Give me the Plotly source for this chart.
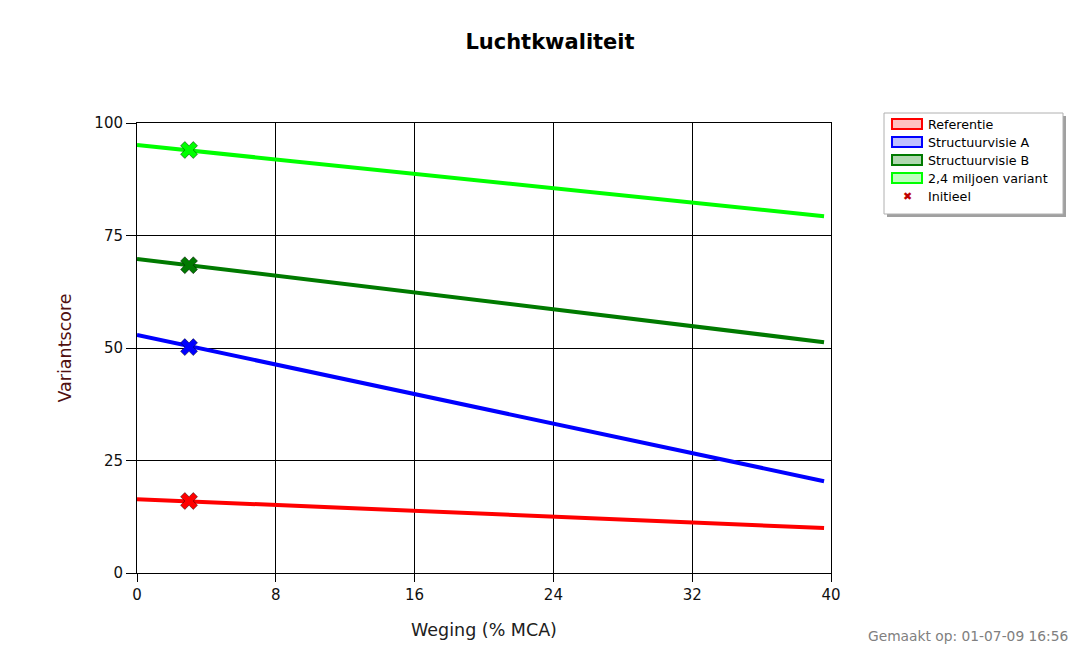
import plotly.graph_objects as go

# ── Data ───────────────────────────────────────────────────────
series_names = ["Referentie", "Structuurvisie A", "Structuurvisie B", "2,4 miljoen variant"]
line_colors = ["#ff0000", "#0000ff", "#007a00", "#00ff00"]
fill_colors = ["#ffc0c0", "#c0c0ff", "#b0d8b0", "#c0ffc0"]
weging = [0, 39.6]
scores = [
    [16.4, 10.0],
    [52.9, 20.4],
    [69.8, 51.3],
    [95.1, 79.3],
]
initieel_x = 3
initieel_y = [16.0, 50.2, 68.4, 94.0]
x_ticks = [0, 8, 16, 24, 32, 40]
y_ticks = [0, 25, 50, 75, 100]

# page body has an 8px margin, so work in screen pixels and shift
OFF = 8
W, H = 1080 - 2 * OFF, 653 - 2 * OFF
L, R, T, B = 137 - OFF, 831 - OFF, 123 - OFF, 573 - OFF
FONT = "DejaVu Sans"


def px(x):
    return (x - OFF - L) / (R - L)


def py(y):
    return (B - (y - OFF)) / (B - T)


fig = go.Figure()

for name, col, ys, yi in zip(series_names, line_colors, scores, initieel_y):
    fig.add_trace(
        go.Scatter(
            x=weging, y=ys, mode="lines", name=name,
            line=dict(color=col, width=4), showlegend=False,
        )
    )
    fig.add_trace(
        go.Scatter(
            x=[initieel_x], y=[yi], mode="markers", showlegend=False,
            marker=dict(symbol="x", size=15, color=col,
                        line=dict(width=1, color="rgba(0,0,0,0.45)")),
        )
    )

# ── Manual legend ──────────────────────────────────────────────
shapes = [
    # shadow
    dict(type="rect", xref="paper", yref="paper", x0=px(887), x1=px(1066),
         y0=py(116), y1=py(217), fillcolor="#a0a0a0", line=dict(width=0), layer="below"),
    dict(type="rect", xref="paper", yref="paper", x0=px(884), x1=px(1063),
         y0=py(113), y1=py(214), fillcolor="white", line=dict(color="#b0b0b0", width=1)),
]
annotations = []
row_y = [124, 142, 160, 178]
for name, col, fc, ry in zip(series_names, line_colors, fill_colors, row_y):
    shapes.append(
        dict(type="rect", xref="paper", yref="paper", x0=px(892), x1=px(922),
             y0=py(ry - 5), y1=py(ry + 5), fillcolor=fc, line=dict(color=col, width=2))
    )
    annotations.append(
        dict(xref="paper", yref="paper", x=px(926), y=py(ry), text=name, showarrow=False,
             xanchor="left", yanchor="middle", font=dict(family=FONT, size=12.7, color="#000"))
    )
annotations.append(
    dict(xref="paper", yref="paper", x=px(907), y=py(196), text="✖", showarrow=False,
         xanchor="center", yanchor="middle", font=dict(family=FONT, size=11, color="#c00000"))
)
annotations.append(
    dict(xref="paper", yref="paper", x=px(926), y=py(196), text="Initieel", showarrow=False,
         xanchor="left", yanchor="middle", font=dict(family=FONT, size=12.7, color="#000"))
)
annotations.append(
    dict(xref="paper", yref="paper", x=px(1069), y=py(645), text="Gemaakt op: 01-07-09 16:56",
         showarrow=False, xanchor="right", yanchor="bottom", borderpad=0,
         font=dict(family=FONT, size=13.8, color="#808080"))
)

fig.update_layout(
    width=W, height=H,
    margin=dict(l=L, r=W - R, t=T, b=H - B, autoexpand=False),
    paper_bgcolor="white", plot_bgcolor="white",
    title=dict(text="<b>Luchtkwaliteit</b>", x=(550 - OFF) / W, xanchor="center",
               y=1 - (42 - OFF) / H, yanchor="middle",
               font=dict(family=FONT, size=21, color="#000")),
    font=dict(family=FONT, size=15, color="#000"),
    showlegend=False,
    shapes=shapes,
    annotations=annotations,
    xaxis=dict(
        range=[0, 40], tickvals=x_ticks, showgrid=True, gridcolor="#000", gridwidth=1,
        zeroline=False, showline=True, linecolor="#000", linewidth=1, mirror=True,
        ticks="outside", ticklen=8, tickcolor="#000",
        title=dict(text="Weging (% MCA)", standoff=20,
                   font=dict(family=FONT, size=17.5, color="#202020")),
        tickfont=dict(family=FONT, size=15, color="#101010"),
    ),
    yaxis=dict(
        range=[0, 100], tickvals=y_ticks, showgrid=True, gridcolor="#000", gridwidth=1,
        zeroline=False, showline=True, linecolor="#000", linewidth=1, mirror=True,
        ticks="outside", ticklen=10, tickcolor="#000",
        title=dict(text="Variantscore", standoff=18,
                   font=dict(family=FONT, size=17.5, color="#501010")),
        tickfont=dict(family=FONT, size=15, color="#101010"),
    ),
)

fig.write_html("out.html")
